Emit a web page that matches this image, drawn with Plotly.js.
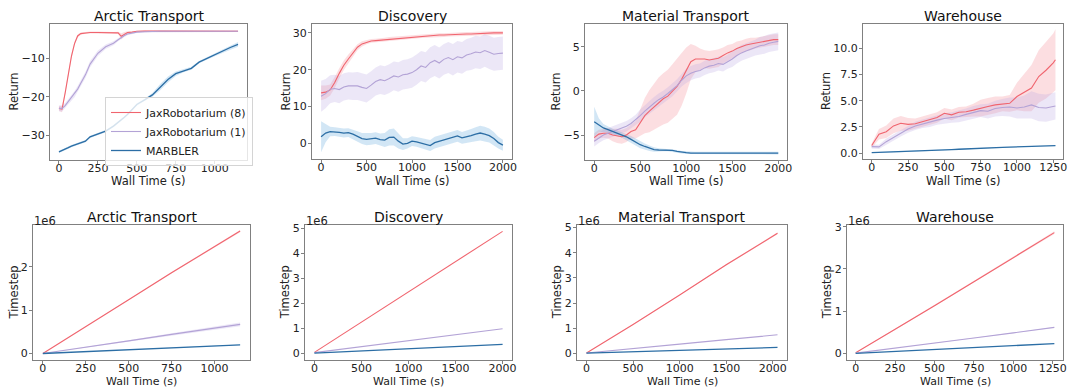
<!DOCTYPE html>
<html><head><meta charset="utf-8">
<script src="https://cdn.plot.ly/plotly-3.0.1.min.js"></script>
<style>html,body{margin:0;padding:0;background:#fff}#chart{width:1070px;height:388px}</style>
</head><body><div id="chart"></div>
<script>
// ---------------- DATA ----------------
const seriesNames = ['JaxRobotarium (8)', 'JaxRobotarium (1)', 'MARBLER'];
const panelTitles = ['Arctic Transport', 'Discovery', 'Material Transport', 'Warehouse'];
const xLabel = 'Wall Time (s)';
const yLabels = ['Return', 'Timestep'];

// Return vs wall time
const arcticTime = [0,20,40,60,80,100,120,140,170,200,250,300,350,380,400,420,440,470,500,550,600,650,700,750,800,850,900,950,1000,1050,1100,1150];
const arcticRet8 = [-23.0,-23.2,-19.0,-14.0,-9.5,-6.2,-4.2,-3.6,-3.4,-3.3,-3.3,-3.4,-3.4,-3.4,-4.3,-3.7,-3.3,-3.2,-3.0,-2.9,-2.9,-2.9,-2.95,-3.0,-3.0,-3.0,-3.0,-3.0,-3.0,-3.0,-3.0,-3.0];
const arcticRet8Sd = [0.6,0.8,0.8,0.8,0.6,0.5,0.4,0.3,0.25,0.25,0.25,0.25,0.25,0.3,0.8,0.5,0.3,0.25,0.2,0.2,0.2,0.2,0.2,0.2,0.2,0.2,0.2,0.2,0.2,0.2,0.2,0.2];
const arcticRet1 = [-23.0,-23.0,-22.3,-21.3,-20.3,-19.3,-18.0,-16.5,-14.3,-11.5,-8.7,-7.0,-6.1,-5.2,-4.6,-4.1,-3.7,-3.4,-3.2,-3.1,-3.0,-3.0,-3.0,-3.0,-3.0,-3.0,-3.0,-3.0,-3.0,-3.0,-3.0,-3.0];
const arcticRet1Sd = [0.8,0.8,0.7,0.7,0.7,0.8,0.8,0.8,0.8,0.8,0.7,0.6,0.5,0.4,0.4,0.4,0.3,0.3,0.25,0.2,0.2,0.2,0.2,0.2,0.2,0.2,0.2,0.2,0.2,0.2,0.2,0.2];
const arcticRetM = [-34.3,-34.0,-33.6,-33.2,-32.8,-32.5,-32.2,-31.9,-31.5,-30.4,-29.7,-28.9,-27.6,-26.7,-26.0,-25.3,-24.6,-23.3,-22.0,-20.8,-19.5,-17.5,-15.5,-14.0,-13.2,-12.6,-11.0,-10.0,-9.2,-8.2,-7.2,-6.4];
const arcticRetMSd = [0.3,0.3,0.3,0.3,0.3,0.3,0.3,0.3,0.3,0.3,0.3,0.3,0.3,0.3,0.3,0.3,0.3,0.3,0.3,0.3,0.5,0.8,0.8,0.6,0.4,0.4,0.3,0.3,0.3,0.4,0.5,0.6];

const discTime = [0,50,100,150,200,250,300,350,400,450,500,550,600,650,700,750,800,850,900,950,1000,1050,1100,1150,1200,1250,1300,1350,1400,1450,1500,1550,1600,1650,1700,1750,1800,1850,1900,1950,2000];
const discRet8 = [13.7,13.9,14.5,16.5,19.0,21.2,22.9,24.6,26.1,27.0,27.5,27.8,27.9,28.0,28.2,28.4,28.5,28.6,28.7,28.8,28.9,29.0,29.1,29.2,29.2,29.3,29.4,29.4,29.5,29.5,29.6,29.6,29.7,29.7,29.8,29.8,29.9,29.9,30.0,30.0,30.0];
const discRet8Sd = [2.0,1.8,1.5,1.5,1.4,1.3,1.2,1.0,0.8,0.7,0.6,0.5,0.5,0.5,0.5,0.5,0.5,0.5,0.5,0.5,0.5,0.5,0.5,0.5,0.5,0.5,0.5,0.5,0.5,0.5,0.5,0.5,0.5,0.5,0.5,0.5,0.5,0.5,0.5,0.5,0.5];
const discRet1 = [12.8,13.5,14.7,14.9,14.6,15.3,15.6,15.5,15.6,15.2,14.9,15.8,16.8,17.3,17.0,17.6,18.3,18.0,18.6,18.8,19.2,20.0,21.0,20.6,21.9,22.5,21.8,22.8,23.3,22.7,23.5,23.2,24.0,24.3,24.8,24.6,25.2,24.7,24.2,24.4,24.5];
const discRet1Sd = [4.2,4.0,3.8,3.7,3.7,3.7,3.7,3.7,3.8,3.8,3.8,3.8,3.8,3.9,3.9,3.9,3.9,4.0,4.0,4.0,4.1,4.1,4.1,4.1,4.2,4.2,4.2,4.2,4.2,4.3,4.3,4.3,4.3,4.4,4.4,4.4,4.4,4.5,4.5,4.5,4.5];
const discRetM = [1.8,2.8,3.2,3.2,3.0,2.8,2.9,2.5,1.9,1.3,1.1,1.2,1.4,1.0,0.9,1.6,1.7,0.6,-0.2,0.0,0.6,0.4,0.1,-0.3,-0.6,0.2,0.6,0.8,1.2,1.6,2.0,1.5,1.7,2.1,2.5,2.8,2.5,2.1,1.3,0.2,-0.5];
const discRetMSd = [4.2,2.5,1.3,1.2,1.2,1.2,1.2,1.3,1.4,1.5,1.6,1.6,1.6,1.7,1.9,2.2,2.3,2.0,1.6,1.4,1.3,1.3,1.3,1.4,1.5,1.6,1.6,1.6,1.6,1.6,1.6,1.6,1.7,1.8,1.9,2.0,2.0,1.9,1.8,1.6,1.5];

const matTime = [0,50,100,150,200,250,300,350,400,450,500,550,600,650,700,750,800,850,900,950,1000,1050,1100,1150,1200,1250,1300,1350,1400,1450,1500,1550,1600,1650,1700,1750,1800,1850,1900,1950,2000];
const matRet8 = [-5.3,-4.9,-4.8,-4.8,-5.0,-5.1,-5.2,-5.0,-4.6,-4.4,-3.6,-2.8,-2.3,-1.8,-1.3,-0.9,-0.6,-0.1,0.5,1.3,2.3,3.3,3.6,3.6,3.6,3.5,3.6,3.7,4.0,4.3,4.5,4.8,5.0,5.2,5.3,5.4,5.5,5.6,5.7,5.8,5.8];
const matRet8Sd = [0.5,0.5,0.5,0.6,0.7,0.8,0.8,0.8,0.8,1.0,1.5,2.0,2.4,2.6,2.8,2.9,3.0,3.1,3.2,3.0,2.6,2.0,1.5,1.2,1.0,1.0,1.0,1.0,0.9,0.9,0.8,0.8,0.7,0.7,0.7,0.6,0.6,0.6,0.6,0.6,0.6];
const matRet1 = [-5.7,-5.3,-5.0,-4.8,-4.6,-4.4,-4.2,-4.0,-3.7,-3.3,-2.8,-2.3,-1.8,-1.4,-1.0,-0.7,-0.3,0.1,0.6,1.2,1.7,2.0,2.2,2.3,2.6,2.8,2.9,3.1,3.0,3.3,3.6,4.0,4.3,4.5,4.7,4.9,5.1,5.2,5.4,5.5,5.6];
const matRet1Sd = [0.6,0.6,0.6,0.6,0.6,0.6,0.6,0.6,0.6,0.6,0.7,0.7,0.7,0.7,0.7,0.7,0.7,0.7,0.7,0.7,0.8,0.8,0.8,0.8,0.8,0.8,0.8,0.8,0.8,0.8,0.9,0.9,0.9,0.9,0.9,0.9,1.0,1.0,1.0,1.0,1.0];
const matRetM = [-3.5,-3.9,-4.2,-4.4,-4.6,-4.8,-5.0,-5.2,-5.5,-5.8,-6.1,-6.3,-6.5,-6.65,-6.7,-6.7,-6.7,-6.75,-6.85,-6.95,-7.0,-7.05,-7.05,-7.05,-7.05,-7.05,-7.05,-7.05,-7.05,-7.05,-7.05,-7.05,-7.05,-7.05,-7.05,-7.05,-7.05,-7.05,-7.05,-7.05,-7.05];
const matRetMSd = [1.7,0.8,0.45,0.35,0.3,0.3,0.3,0.35,0.4,0.4,0.4,0.35,0.3,0.25,0.2,0.15,0.15,0.15,0.15,0.15,0.15,0.15,0.15,0.15,0.15,0.15,0.15,0.15,0.15,0.15,0.15,0.15,0.15,0.15,0.15,0.15,0.15,0.15,0.15,0.15,0.15];

const wareTime = [0,50,100,150,200,250,300,350,400,450,500,550,600,650,700,750,800,850,900,950,1000,1050,1100,1150,1200,1250,1265];
const wareRet8 = [0.73,1.8,2.05,2.6,2.85,2.75,2.8,3.0,3.2,3.4,3.8,3.65,3.9,3.95,4.1,4.3,4.45,4.6,4.7,4.75,5.4,5.8,6.2,7.3,7.9,8.6,8.9];
const wareRet8Sd = [0.2,0.5,0.6,0.7,0.7,0.6,0.5,0.5,0.5,0.5,0.5,0.5,0.5,0.5,0.6,0.8,0.8,0.8,0.7,0.8,1.3,1.8,2.2,2.5,2.7,2.8,2.9];
const wareRet1 = [0.63,0.6,1.1,1.5,1.9,2.3,2.6,2.8,2.95,3.15,3.3,3.4,3.5,3.7,3.9,4.05,4.0,4.25,4.35,4.4,4.3,4.4,4.6,4.35,4.3,4.45,4.5];
const wareRet1Sd = [0.2,0.2,0.3,0.3,0.3,0.35,0.4,0.4,0.45,0.45,0.5,0.5,0.55,0.55,0.6,0.6,0.7,0.75,0.8,0.9,1.0,1.1,1.3,1.3,1.3,1.3,1.3];
const wareRetM = [0.05,0.07,0.09,0.11,0.13,0.15,0.18,0.21,0.24,0.27,0.3,0.34,0.38,0.42,0.46,0.5,0.52,0.54,0.56,0.58,0.6,0.64,0.68,0.72,0.74,0.73,0.72];
const wareRetMSd = [0.04,0.04,0.04,0.04,0.04,0.04,0.04,0.04,0.04,0.04,0.04,0.04,0.04,0.04,0.04,0.04,0.04,0.04,0.04,0.04,0.04,0.04,0.04,0.04,0.04,0.04,0.04];

// Timestep vs wall time
const arcticStepTime = [0,250,500,750,1000,1150];
const arcticSteps8 = [0,610000,1240000,1860000,2460000,2820000];
const arcticSteps8Sd = [0,5000,10000,15000,20000,25000];
const arcticSteps1 = [0,140000,290000,440000,580000,670000];
const arcticSteps1Sd = [0,8000,15000,25000,35000,45000];
const arcticStepsM = [0,45000,90000,135000,175000,200000];
const arcticStepsMSd = [0,2000,3000,4000,5000,5000];

const discStepTime = [0,500,1000,1500,2000];
const discSteps8 = [40000,1250000,2460000,3680000,4890000];
const discSteps8Sd = [0,5000,8000,10000,12000];
const discSteps1 = [30000,270000,510000,750000,990000];
const discSteps1Sd = [0,3000,5000,7000,8000];
const discStepsM = [10000,95000,180000,270000,360000];
const discStepsMSd = [0,2000,3000,4000,4000];

const matStepTime = [0,500,1000,1500,2050];
const matSteps8 = [20000,1150000,2320000,3520000,4770000];
const matSteps8Sd = [0,15000,25000,30000,40000];
const matSteps1 = [20000,185000,370000,550000,740000];
const matSteps1Sd = [0,3000,5000,7000,8000];
const matStepsM = [10000,65000,120000,180000,240000];
const matStepsMSd = [0,2000,3000,4000,4000];

const wareStepTime = [0,250,500,750,1000,1260];
const wareSteps8 = [20000,570000,1130000,1700000,2270000,2860000];
const wareSteps8Sd = [0,10000,15000,20000,25000,30000];
const wareSteps1 = [10000,125000,250000,370000,490000,620000];
const wareSteps1Sd = [0,3000,5000,7000,8000,9000];
const wareStepsM = [5000,50000,95000,140000,190000,235000];
const wareStepsMSd = [0,2000,3000,4000,4000,4000];

const stepTickVals = [0,1000000,2000000,3000000,4000000,5000000];
const stepTickText = ['0','1','2','3','4','5'];
const stepScaleLabel = '1e6';

// ---------------- STYLE / LAYOUT ----------------
const lineColors = ['#f0646e', '#b3a3d6', '#2c6ea5'];
const bandColors = ['rgba(245,125,135,0.25)', 'rgba(185,170,225,0.28)', 'rgba(95,165,220,0.28)'];
const FONT = 'DejaVu Sans, Arial, sans-serif';
const W = 1070, H = 388;

const panels = [
  {title: panelTitles[0], ylabel: yLabels[0], xs: arcticTime, ys: [arcticRet8, arcticRet1, arcticRetM], sds: [arcticRet8Sd, arcticRet1Sd, arcticRetMSd],
   px: [50, 247], py: [24, 160], xr: [-57.5, 1207.5], yr: [-36.4, -1.1], xdt: 250, ydt: 10, ylx: 13.5, xly: 181, xlf: 11.5},
  {title: panelTitles[1], ylabel: yLabels[0], xs: discTime, ys: [discRet8, discRet1, discRetM], sds: [discRet8Sd, discRet1Sd, discRetMSd],
   px: [312, 512], py: [24, 159], xr: [-100, 2100], yr: [-4.25, 32.4], xdt: 500, ydt: 10, ylx: 285, xly: 181, xlf: 11.5},
  {title: panelTitles[2], ylabel: yLabels[0], xs: matTime, ys: [matRet8, matRet1, matRetM], sds: [matRet8Sd, matRet1Sd, matRetMSd],
   px: [585, 787], py: [24, 160], xr: [-100, 2095], yr: [-7.83, 7.57], xdt: 500, ydt: 5, ylx: 555.5, xly: 181, xlf: 11.5},
  {title: panelTitles[3], ylabel: yLabels[0], xs: wareTime, ys: [wareRet8, wareRet1, wareRetM], sds: [wareRet8Sd, wareRet1Sd, wareRetMSd],
   px: [863, 1063], py: [24, 159], xr: [-60, 1317], yr: [-0.55, 12.3], xdt: 250, ydt: 2.5, yfmt: '.1f', ylx: 825.5, xly: 181, xlf: 11.5},
  {title: panelTitles[0], ylabel: yLabels[1], xs: arcticStepTime, ys: [arcticSteps8, arcticSteps1, arcticStepsM], sds: [arcticSteps8Sd, arcticSteps1Sd, arcticStepsMSd],
   px: [33, 250], py: [225, 360], xr: [-57.5, 1207.5], yr: [-150000, 2960000], xdt: 250, steps: true, ylx: 13, xly: 381, xlf: 11},
  {title: panelTitles[1], ylabel: yLabels[1], xs: discStepTime, ys: [discSteps8, discSteps1, discStepsM], sds: [discSteps8Sd, discSteps1Sd, discStepsMSd],
   px: [305, 512], py: [225, 359.5], xr: [-100, 2100], yr: [-245000, 5145000], xdt: 500, steps: true, ylx: 285, xly: 381, xlf: 11},
  {title: panelTitles[2], ylabel: yLabels[1], xs: matStepTime, ys: [matSteps8, matSteps1, matStepsM], sds: [matSteps8Sd, matSteps1Sd, matStepsMSd],
   px: [577, 787], py: [225, 359.5], xr: [-102, 2152], yr: [-240000, 5100000], xdt: 500, steps: true, ylx: 557, xly: 381, xlf: 11},
  {title: panelTitles[3], ylabel: yLabels[1], xs: wareStepTime, ys: [wareSteps8, wareSteps1, wareStepsM], sds: [wareSteps8Sd, wareSteps1Sd, wareStepsMSd],
   px: [847, 1063], py: [225, 359.5], xr: [-55, 1315], yr: [-140000, 3040000], xdt: 250, steps: true, ylx: 827, xly: 381, xlf: 11}
];

const traces = [];
const layout = {
  width: W, height: H, margin: {l: 0, r: 0, t: 0, b: 0},
  paper_bgcolor: '#fff', plot_bgcolor: '#fff',
  font: {family: FONT, size: 11, color: '#222'},
  showlegend: true,
  legend: {x: 105 / W, y: 1 - 97 / H, xanchor: 'left', yanchor: 'top',
           bgcolor: 'rgba(255,255,255,0.8)', bordercolor: '#d4d4d4', borderwidth: 1,
           font: {family: FONT, size: 11, color: '#222'}, tracegroupgap: 0},
  annotations: []
};

function axisBase() {
  return {showgrid: false, zeroline: false, showline: true, mirror: true,
          linecolor: '#808080', linewidth: 1, ticks: 'outside', ticklen: 3, tickwidth: 1,
          tickcolor: '#808080', tickfont: {family: FONT, size: 11, color: '#222'}, fixedrange: true};
}

panels.forEach((p, i) => {
  const n = i + 1;
  const xa = 'x' + (n === 1 ? '' : n), ya = 'y' + (n === 1 ? '' : n);
  const xk = 'xaxis' + (n === 1 ? '' : n), yk = 'yaxis' + (n === 1 ? '' : n);
  const xd = [p.px[0] / W, p.px[1] / W];
  const yd = [1 - p.py[1] / H, 1 - p.py[0] / H];
  const xax = Object.assign(axisBase(), {domain: xd, anchor: ya, range: p.xr, tick0: 0, dtick: p.xdt, ticklabelstandoff: -5});
  const yax = Object.assign(axisBase(), {domain: yd, anchor: xa, range: p.yr, ticklabelstandoff: -1});
  if (p.steps) { yax.tickmode = 'array'; yax.tickvals = stepTickVals; yax.ticktext = stepTickText; }
  else { yax.tick0 = 0; yax.dtick = p.ydt; if (p.yfmt) yax.tickformat = p.yfmt; }
  layout[xk] = xax; layout[yk] = yax;

  layout.annotations.push({text: p.title, xref: 'paper', yref: 'paper', x: (xd[0] + xd[1]) / 2,
    y: 1 - (p.py[0] - 8) / H, xanchor: 'center', yanchor: 'middle', showarrow: false, borderpad: 0,
    font: {family: FONT, size: 14, color: '#111'}});
  layout.annotations.push({text: xLabel, xref: 'paper', yref: 'paper', x: (xd[0] + xd[1]) / 2,
    y: 1 - p.xly / H, xanchor: 'center', yanchor: 'middle', showarrow: false, borderpad: 0,
    font: {family: FONT, size: p.xlf, color: '#222'}});
  layout.annotations.push({text: p.ylabel, xref: 'paper', yref: 'paper', x: p.ylx / W,
    y: (yd[0] + yd[1]) / 2, xanchor: 'center', yanchor: 'middle', textangle: -90, showarrow: false, borderpad: 0,
    font: {family: FONT, size: 11.5, color: '#222'}});
  if (p.steps) {
    layout.annotations.push({text: stepScaleLabel, xref: 'paper', yref: 'paper', x: xd[0],
      y: 1 - (p.py[0] - 4) / H, xanchor: 'left', yanchor: 'middle', showarrow: false, borderpad: 0,
      font: {family: FONT, size: 11.5, color: '#222'}});
  }

  for (let s = 0; s < 3; s++) {
    const m = p.ys[s], sd = p.sds[s];
    const upper = m.map((v, k) => v + sd[k]);
    const lower = m.map((v, k) => v - sd[k]);
    traces.push({x: p.xs.concat(p.xs.slice().reverse()), y: upper.concat(lower.slice().reverse()),
      xaxis: xa, yaxis: ya, type: 'scatter', mode: 'lines', fill: 'toself', fillcolor: bandColors[s],
      line: {width: 0, color: 'rgba(0,0,0,0)'}, showlegend: false, hoverinfo: 'skip'});
  }
  for (let s = 0; s < 3; s++) {
    traces.push({x: p.xs, y: p.ys[s], xaxis: xa, yaxis: ya, type: 'scatter', mode: 'lines',
      name: seriesNames[s], line: {color: lineColors[s], width: s === 2 ? 1.3 : 1.1},
      showlegend: n === 1, legendrank: s + 1});
  }
});

Plotly.newPlot('chart', traces, layout, {staticPlot: true, displayModeBar: false});
</script>
</body></html>
